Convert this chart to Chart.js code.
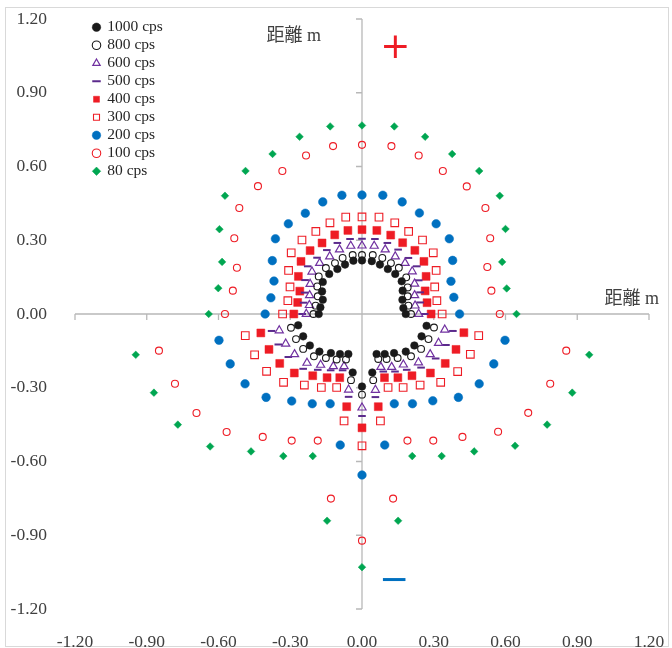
<!DOCTYPE html>
<html>
<head>
<meta charset="utf-8">
<script src="https://cdn.jsdelivr.net/npm/chart.js@4.4.1/dist/chart.umd.min.js"></script>
<style>
  html, body { margin: 0; padding: 0; background: #fff; }
  #frame { position: absolute; left: 5px; top: 7px; width: 662px; height: 638px; border: 1px solid #d9d9d9; }
  #chart { position: absolute; left: 0; top: 0; }
</style>
</head>
<body>
<div id="frame"></div>
<canvas id="chart" width="672" height="648"></canvas>
<script>
// dose-rate contours (x, y in metres)
const seriesLabels = ['1000 cps', '800 cps', '600 cps', '500 cps', '400 cps', '300 cps', '200 cps', '100 cps', '80 cps'];
const axisTicks = [-1.2, -0.9, -0.6, -0.3, 0, 0.3, 0.6, 0.9, 1.2];

const cps1000 = [
  [0, 0.218], [-0.036, 0.217], [0.041, 0.215], [-0.071, 0.201], [0.075, 0.201], [-0.103, 0.183], [0.108, 0.183],
  [-0.137, 0.163], [0.139, 0.163], [-0.164, 0.130], [0.166, 0.133], [-0.167, 0.092], [0.170, 0.095],
  [-0.164, 0.058], [0.169, 0.058], [-0.174, 0.027], [0.173, 0.024], [-0.181, 0], [0.183, 0],
  [-0.267, -0.046], [0.270, -0.048], [-0.246, -0.091], [0.249, -0.091], [-0.218, -0.128], [0.219, -0.128],
  [-0.178, -0.153], [0.183, -0.153], [-0.130, -0.159], [0.134, -0.159], [-0.092, -0.163], [0.095, -0.163],
  [-0.057, -0.163], [0.061, -0.163], [-0.039, -0.238], [0.043, -0.238], [0, -0.295]
];
const cps800 = [
  [0, 0.240], [-0.039, 0.240], [0.045, 0.240], [-0.081, 0.228], [0.085, 0.228], [-0.113, 0.207], [0.121, 0.207],
  [-0.151, 0.187], [0.154, 0.188], [-0.181, 0.153], [0.185, 0.149], [-0.187, 0.112], [0.191, 0.108],
  [-0.185, 0.072], [0.191, 0.072], [-0.194, 0.034], [0.194, 0.034], [-0.203, 0], [0.205, 0],
  [-0.297, -0.056], [0.301, -0.055], [-0.276, -0.102], [0.278, -0.102], [-0.246, -0.142], [0.247, -0.142],
  [-0.201, -0.172], [0.205, -0.172], [-0.151, -0.179], [0.149, -0.179], [-0.106, -0.185], [0.103, -0.183],
  [-0.067, -0.185], [0.068, -0.183], [-0.046, -0.269], [0.047, -0.269], [0, -0.328]
];
const cps600 = [
  [0, 0.278], [-0.047, 0.277], [0.051, 0.277], [-0.094, 0.262], [0.097, 0.262], [-0.135, 0.234], [0.139, 0.234],
  [-0.177, 0.207], [0.180, 0.207], [-0.209, 0.172], [0.210, 0.173], [-0.217, 0.122], [0.220, 0.123],
  [-0.219, 0.076], [0.220, 0.076], [-0.220, 0.036], [0.222, 0.034], [-0.233, 0], [0.237, 0],
  [-0.346, -0.067], [0.346, -0.064], [-0.319, -0.121], [0.320, -0.118], [-0.282, -0.164], [0.285, -0.164],
  [-0.230, -0.199], [0.236, -0.197], [-0.173, -0.207], [0.173, -0.206], [-0.120, -0.213], [0.124, -0.216],
  [-0.075, -0.213], [0.079, -0.216], [-0.056, -0.308], [0.056, -0.309], [0, -0.381]
];
const cps500 = [
  [0, 0.306], [-0.050, 0.305], [0.054, 0.305], [-0.103, 0.289], [0.106, 0.289], [-0.147, 0.260], [0.151, 0.262],
  [-0.188, 0.229], [0.194, 0.228], [-0.227, 0.194], [0.229, 0.194], [-0.238, 0.138], [0.237, 0.137],
  [-0.240, 0.087], [0.243, 0.088], [-0.244, 0.046], [0.243, 0.047], [-0.250, 0], [0.262, 0],
  [-0.378, -0.069], [0.380, -0.069], [-0.350, -0.124], [0.351, -0.126], [-0.308, -0.175], [0.308, -0.181],
  [-0.246, -0.223], [0.247, -0.218], [-0.185, -0.227], [0.187, -0.227], [-0.131, -0.229], [0.138, -0.234],
  [-0.081, -0.229], [0.089, -0.234], [-0.056, -0.337], [0.056, -0.338], [0, -0.415]
];
const cps400 = [
  [0, 0.343], [-0.059, 0.340], [0.062, 0.340], [-0.114, 0.322], [0.120, 0.321], [-0.167, 0.289], [0.170, 0.290],
  [-0.217, 0.258], [0.221, 0.259], [-0.255, 0.214], [0.259, 0.214], [-0.266, 0.153], [0.268, 0.153],
  [-0.260, 0.093], [0.264, 0.094], [-0.269, 0.047], [0.272, 0.046], [-0.285, 0], [0.289, 0],
  [-0.423, -0.077], [0.426, -0.076], [-0.389, -0.144], [0.393, -0.144], [-0.344, -0.201], [0.348, -0.201],
  [-0.283, -0.240], [0.286, -0.240], [-0.206, -0.251], [0.209, -0.251], [-0.146, -0.259], [0.150, -0.259],
  [-0.093, -0.259], [0.094, -0.259], [-0.064, -0.377], [0.068, -0.377], [0, -0.463]
];
const cps300 = [
  [0, 0.395], [-0.068, 0.394], [0.071, 0.394], [-0.134, 0.371], [0.137, 0.371], [-0.193, 0.336], [0.195, 0.336],
  [-0.251, 0.301], [0.253, 0.301], [-0.296, 0.249], [0.298, 0.249], [-0.307, 0.177], [0.310, 0.177],
  [-0.301, 0.110], [0.304, 0.110], [-0.310, 0.054], [0.313, 0.054], [-0.332, 0], [0.335, 0],
  [-0.488, -0.088], [0.488, -0.088], [-0.449, -0.166], [0.453, -0.164], [-0.399, -0.233], [0.400, -0.234],
  [-0.328, -0.278], [0.329, -0.278], [-0.241, -0.289], [0.243, -0.289], [-0.170, -0.299], [0.172, -0.299],
  [-0.106, -0.299], [0.109, -0.299], [-0.075, -0.435], [0.077, -0.435], [0, -0.536]
];
const cps200 = [
  [0, 0.484], [-0.084, 0.483], [0.087, 0.483], [-0.164, 0.456], [0.168, 0.456], [-0.237, 0.410], [0.240, 0.411],
  [-0.308, 0.367], [0.310, 0.367], [-0.362, 0.306], [0.365, 0.306], [-0.375, 0.217], [0.379, 0.218],
  [-0.368, 0.134], [0.372, 0.133], [-0.381, 0.066], [0.384, 0.068], [-0.405, 0], [0.408, 0],
  [-0.598, -0.107], [0.598, -0.107], [-0.551, -0.203], [0.551, -0.203], [-0.489, -0.284], [0.490, -0.284],
  [-0.401, -0.339], [0.403, -0.339], [-0.294, -0.354], [0.296, -0.353], [-0.208, -0.365], [0.211, -0.365],
  [-0.133, -0.365], [0.135, -0.365], [-0.091, -0.533], [0.095, -0.533], [0, -0.655]
];
const cps100 = [
  [0, 0.688], [-0.121, 0.683], [0.123, 0.683], [-0.234, 0.645], [0.237, 0.645], [-0.333, 0.582], [0.338, 0.582],
  [-0.435, 0.520], [0.438, 0.519], [-0.513, 0.431], [0.516, 0.431], [-0.534, 0.308], [0.536, 0.308],
  [-0.523, 0.188], [0.524, 0.191], [-0.540, 0.095], [0.541, 0.095], [-0.573, 0], [0.576, 0],
  [-0.849, -0.149], [0.854, -0.149], [-0.782, -0.284], [0.787, -0.284], [-0.692, -0.403], [0.695, -0.402],
  [-0.566, -0.480], [0.569, -0.479], [-0.415, -0.500], [0.420, -0.500], [-0.294, -0.515], [0.298, -0.515],
  [-0.185, -0.515], [0.190, -0.515], [-0.130, -0.751], [0.130, -0.751], [0, -0.922]
];
const cps80 = [
  [0, 0.767], [-0.133, 0.763], [0.135, 0.763], [-0.261, 0.721], [0.264, 0.721], [-0.374, 0.651], [0.377, 0.651],
  [-0.487, 0.582], [0.490, 0.582], [-0.573, 0.481], [0.576, 0.481], [-0.596, 0.345], [0.600, 0.346],
  [-0.585, 0.212], [0.586, 0.212], [-0.601, 0.105], [0.605, 0.104], [-0.641, 0], [0.646, 0],
  [-0.946, -0.166], [0.950, -0.166], [-0.870, -0.320], [0.879, -0.320], [-0.770, -0.450], [0.774, -0.450],
  [-0.635, -0.539], [0.640, -0.536], [-0.464, -0.559], [0.469, -0.559], [-0.329, -0.578], [0.333, -0.578],
  [-0.206, -0.578], [0.210, -0.578], [-0.146, -0.841], [0.151, -0.841], [0, -1.03]
];

const seriesPoints = [cps1000, cps800, cps600, cps500, cps400, cps300, cps200, cps100, cps80];

const RED = '#ee1c25', BLUE = '#0070c0', GREEN = '#00a651', PURPLE = '#7030a0', BLACK = '#1a1a1a';
const NONE = 'rgba(0,0,0,0)';
const markerStyles = [
  { pointStyle: 'circle', pointRadius: 3.8, backgroundColor: BLACK, borderColor: BLACK, borderWidth: 0.5 },
  { pointStyle: 'circle', pointRadius: 3.4, backgroundColor: NONE, borderColor: BLACK, borderWidth: 1.1 },
  { pointStyle: 'triangle', pointRadius: 4.7, backgroundColor: NONE, borderColor: PURPLE, borderWidth: 1.2 },
  { pointStyle: 'line', pointRadius: 3.8, backgroundColor: '#5b2a8c', borderColor: '#5b2a8c', borderWidth: 2 },
  { pointStyle: 'rect', pointRadius: 5.6, backgroundColor: RED, borderColor: RED, borderWidth: 0.5 },
  { pointStyle: 'rect', pointRadius: 5.4, backgroundColor: NONE, borderColor: RED, borderWidth: 1.1 },
  { pointStyle: 'circle', pointRadius: 4.3, backgroundColor: BLUE, borderColor: BLUE, borderWidth: 0.5 },
  { pointStyle: 'circle', pointRadius: 3.5, backgroundColor: NONE, borderColor: RED, borderWidth: 1.1 },
  { pointStyle: 'rectRot', pointRadius: 3.8, backgroundColor: GREEN, borderColor: GREEN, borderWidth: 0.5 }
];

const SERIF = '"Liberation Serif", "Noto Sans CJK JP", serif';

// axes cross at the origin, with little tick marks on them
const crossAxes = {
  id: 'crossAxes',
  beforeDatasetsDraw(chart) {
    const { ctx, chartArea: a, scales: { x, y } } = chart;
    const x0 = x.getPixelForValue(0), y0 = y.getPixelForValue(0);
    ctx.save();
    ctx.strokeStyle = '#b8b8b8';
    ctx.lineWidth = 1.3;
    ctx.beginPath();
    ctx.moveTo(x0, a.top); ctx.lineTo(x0, a.bottom);
    ctx.moveTo(a.left, y0); ctx.lineTo(a.right, y0);
    axisTicks.forEach(v => {
      const px = x.getPixelForValue(v), py = y.getPixelForValue(v);
      ctx.moveTo(px, y0); ctx.lineTo(px, y0 + 6);
      ctx.moveTo(x0 - 6, py); ctx.lineTo(x0, py);
    });
    ctx.stroke();
    ctx.restore();
  }
};

// axis titles and the +/- marks, placed in data units
const notes = {
  id: 'notes',
  afterDatasetsDraw(chart) {
    const { ctx, scales: { x, y } } = chart;
    const put = (text, vx, vy, font, color) => {
      ctx.font = font;
      ctx.fillStyle = color;
      ctx.fillText(text, x.getPixelForValue(vx), y.getPixelForValue(vy));
    };
    ctx.save();
    ctx.textAlign = 'center';
    ctx.textBaseline = 'middle';
    put('距離 m', -0.285, 1.129, '18px ' + SERIF, '#404040');
    put('距離 m', 1.128, 0.058, '18px ' + SERIF, '#404040');
    put('+', 0.139, 1.078, '36px "DejaVu Sans"', RED);
    put('−', 0.134, -1.09, '36px "DejaVu Sans"', BLUE);
    ctx.restore();
  }
};

// put the built-in legend in the top-left corner of the plot
const legendNudge = {
  id: 'legendNudge',
  afterLayout(chart) {
    const lg = chart.legend, a = chart.chartArea;
    lg.left = a.left + 16; lg.right = lg.left + lg.width;
    lg.top = a.top - 2; lg.bottom = lg.top + lg.height;
  }
};

const fmt = v => (Math.abs(v) < 1e-9 ? 0 : v).toFixed(2);

new Chart(document.getElementById('chart'), {
  type: 'scatter',
  data: {
    datasets: seriesPoints.map((pts, i) => ({
      label: seriesLabels[i],
      data: pts.map(([x, y]) => ({ x, y })),
      ...markerStyles[i],
      pointHoverRadius: markerStyles[i].pointRadius,
      showLine: false
    }))
  },
  options: {
    responsive: false,
    animation: false,
    layout: { padding: { left: 0, right: 23, top: 19, bottom: 0 } },
    plugins: {
      tooltip: { enabled: false },
      legend: {
        position: 'chartArea',
        align: 'start',
        labels: {
          usePointStyle: true,
          boxWidth: 6,
          boxHeight: 6,
          padding: 2.5,
          color: '#262626',
          font: { family: SERIF, size: 15.5 }
        }
      }
    },
    scales: {
      x: {
        type: 'linear',
        min: -1.2,
        max: 1.2,
        afterBuildTicks: s => { s.ticks = axisTicks.map(value => ({ value })); },
        afterFit: s => { s.height = 39; s.paddingLeft = 0; s.paddingRight = 0; },
        grid: { display: false },
        border: { display: false },
        ticks: { callback: fmt, padding: 15, color: '#404040', font: { family: SERIF, size: 17.5 } }
      },
      y: {
        type: 'linear',
        min: -1.2,
        max: 1.2,
        afterBuildTicks: s => { s.ticks = axisTicks.map(value => ({ value })); },
        afterFit: s => { s.width = 75; s.paddingTop = 0; s.paddingBottom = 0; },
        grid: { display: false },
        border: { display: false },
        ticks: { callback: fmt, padding: 20, color: '#404040', font: { family: SERIF, size: 17.5 } }
      }
    }
  },
  plugins: [crossAxes, notes, legendNudge]
});
</script>
</body>
</html>
